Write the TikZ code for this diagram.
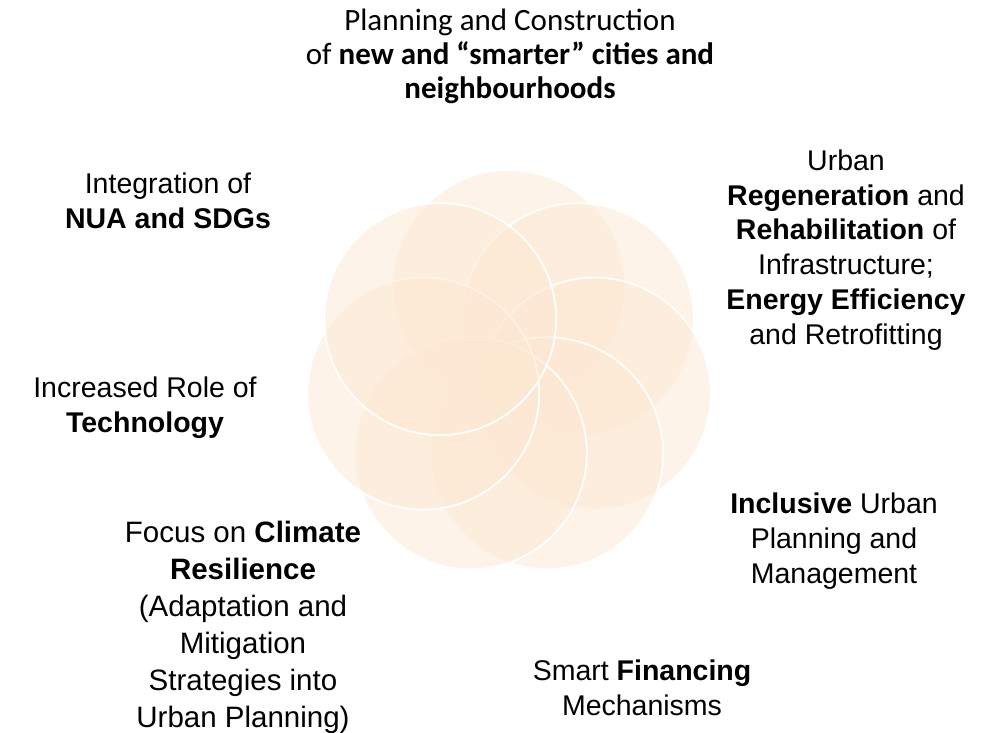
\documentclass[tikz,border=0pt]{standalone}
\usepackage{fontspec}
\setmainfont{Liberation Sans}
\newfontfamily\headfont{Carlito}
\usetikzlibrary{positioning,calc}
\definecolor{petalfill}{RGB}{252,231,209}
\tikzset{
  petal/.style={circle, fill=petalfill, fill opacity=0.5, draw=white, line width=1.8pt,
    minimum size=232pt, inner sep=0pt},
  topic/.style={align=center, inner sep=0pt, font=\fontsize{28.5}{34.8}\selectfont},
}

\begin{document}
\begin{tikzpicture}[x=1pt,y=1pt]
   \useasboundingbox (0,0) rectangle (996,732);
   \coordinate (hub) at (509,358);
   % seven petals, drawn clockwise from the top
   \foreach \k in {0,...,6}
      \node[petal] (p\k) at ($(hub)+({90-\k*360/7}:88)$) {};
   % labels round the flower
   \node[topic, font=\headfont\fontsize{31}{34}\selectfont] (build) at (510,676)
      {Planning and Construction\\of \textbf{new and “smarter” cities and}\\\textbf{neighbourhoods}};
   \node[topic] (regen) at (846,482)
      {Urban\\\textbf{Regeneration} and\\\textbf{Rehabilitation} of\\Infrastructure;\\\textbf{Energy Efficiency}\\and Retrofitting};
   \node[topic] (incl) at (834,191) {\textbf{Inclusive} Urban\\Planning and\\Management};
   \node[topic] (fin) at (642,44) {Smart \textbf{Financing}\\Mechanisms};
   \node[topic, font=\fontsize{29.5}{37}\selectfont] (clim) at (243,105)
      {Focus on \textbf{Climate}\\\textbf{Resilience}\\(Adaptation and\\Mitigation\\Strategies into\\Urban Planning)};
   \node[topic] (tech) at (145,324) {Increased Role of\\\textbf{Technology}};
   \node[topic] (nua) at (168,531) {Integration of\\\textbf{NUA and SDGs}};
\end{tikzpicture}
\end{document}
